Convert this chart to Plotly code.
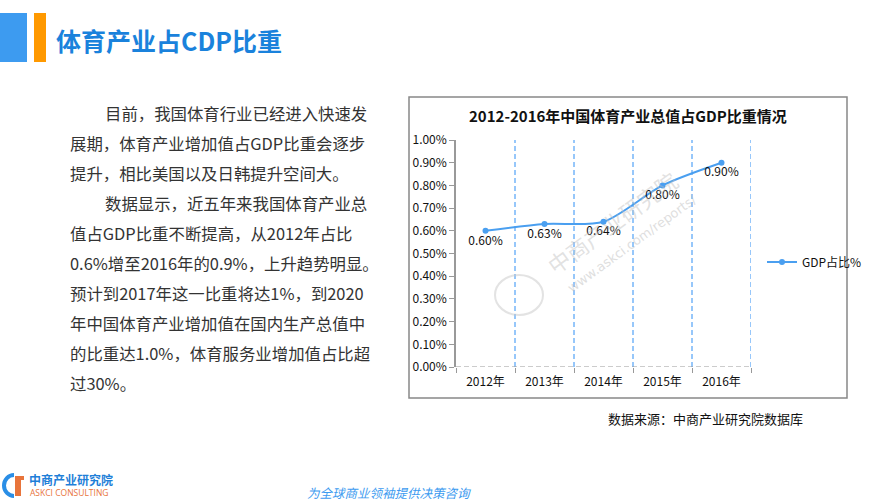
import plotly.graph_objects as go

# data
years = ['2012年', '2013年', '2014年', '2015年', '2016年']
gdp_share = [0.0060, 0.0063, 0.0064, 0.0080, 0.0090]
series_name = 'GDP占比%'

page_title = '体育产业占CDP比重'
chart_title = '2012-2016年中国体育产业总值占GDP比重情况'
source_text = '数据来源：中商产业研究院数据库'
slogan = '为全球商业领袖提供决策咨询'
body_lines = [
    (True, '目前，我国体育行业已经进入快速发'),
    (False, '展期，体育产业增加值占GDP比重会逐步'),
    (False, '提升，相比美国以及日韩提升空间大。'),
    (True, '数据显示，近五年来我国体育产业总'),
    (False, '值占GDP比重不断提高，从2012年占比'),
    (False, '0.6%增至2016年的0.9%，上升趋势明显。'),
    (False, '预计到2017年这一比重将达1%，到2020'),
    (False, '年中国体育产业增加值在国内生产总值中'),
    (False, '的比重达1.0%，体育服务业增加值占比超'),
    (False, '过30%。'),
]

W, H = 870, 502
PL, PR, PT, PB = 456, 751, 140, 367  # plot area in px
CJK = 'Noto Sans CJK SC'
LINE_BLUE = '#4a9ff0'


def px_x(x):
    return (x - PL) / (PR - PL)


def px_y(y):
    return (PB - y) / (PB - PT)


fig = go.Figure()
fig.add_trace(go.Scatter(
    x=years, y=gdp_share, name=series_name,
    mode='lines+markers+text',
    line=dict(color=LINE_BLUE, width=2, shape='spline', smoothing=0.8),
    marker=dict(color=LINE_BLUE, size=6),
    texttemplate='%{y:.2%}', textposition='bottom center',
    textfont=dict(family=CJK, size=12, color='#111'),
    cliponaxis=False,
))

annotations = []
shapes = []

# dashed category dividers
for i in range(len(years)):
    shapes.append(dict(type='line', xref='x', yref='paper', x0=i + 0.5, x1=i + 0.5, y0=0, y1=1,
                       line=dict(color='#2f8ff5', width=1, dash='5px,3px'), layer='below'))

# page header
shapes.append(dict(type='rect', xref='paper', yref='paper', x0=px_x(0), x1=px_x(27),
                   y0=px_y(62), y1=px_y(13), fillcolor='#3d9bf0', line_width=0, layer='above'))
shapes.append(dict(type='rect', xref='paper', yref='paper', x0=px_x(34), x1=px_x(46),
                   y0=px_y(62), y1=px_y(13), fillcolor='#ff9900', line_width=0, layer='above'))
annotations.append(dict(xref='paper', yref='paper', x=px_x(54), y=px_y(40), xanchor='left',
                        yanchor='middle', showarrow=False, text='<b>%s</b>' % page_title,
                        font=dict(family=CJK, size=25, color='#1a82dc')))

# body text
for i, (indent, line) in enumerate(body_lines):
    annotations.append(dict(xref='paper', yref='paper', x=px_x(103 if indent else 68),
                            y=px_y(113 + 30 * i), xanchor='left', yanchor='middle',
                            showarrow=False, text=line,
                            font=dict(family=CJK, size=16.4, color='#333')))

# chart box and title
shapes.append(dict(type='rect', xref='paper', yref='paper', x0=px_x(409), x1=px_x(847),
                   y0=px_y(398), y1=px_y(97), line=dict(color='#888', width=1.5)))
annotations.append(dict(xref='paper', yref='paper', x=px_x(628), y=px_y(115), xanchor='center',
                        yanchor='middle', showarrow=False, text='<b>%s</b>' % chart_title,
                        font=dict(family=CJK, size=15, color='#111')))

# dashed x axis line
shapes.append(dict(type='line', xref='paper', yref='y', x0=0, x1=1, y0=0, y1=0,
                   line=dict(color='#999', width=1.2, dash='5px,3px')))

# watermark
annotations.append(dict(xref='paper', yref='paper', x=px_x(612), y=px_y(222), showarrow=False,
                        text='中商产业研究院', textangle=-36,
                        font=dict(family=CJK, size=22, color='rgba(190,190,190,0.45)')))
annotations.append(dict(xref='paper', yref='paper', x=px_x(632), y=px_y(243), showarrow=False,
                        text='www.askci.com/reports/', textangle=-36,
                        font=dict(family='DejaVu Sans', size=13, color='rgba(190,190,190,0.5)')))
shapes.append(dict(type='circle', xref='paper', yref='paper', x0=px_x(495), x1=px_x(543),
                   y0=px_y(315), y1=px_y(275), line=dict(color='rgba(200,200,200,0.5)', width=2)))

# source
annotations.append(dict(xref='paper', yref='paper', x=px_x(606), y=px_y(418), xanchor='left',
                        yanchor='middle', showarrow=False, text=source_text,
                        font=dict(family=CJK, size=13, color='#111')))

# footer logo
shapes.append(dict(type='circle', xref='paper', yref='paper', x0=px_x(4), x1=px_x(24),
                   y0=px_y(496), y1=px_y(475), line=dict(color='#2a8ee6', width=4)))
shapes.append(dict(type='rect', xref='paper', yref='paper', x0=px_x(14), x1=px_x(27),
                   y0=px_y(499), y1=px_y(472), fillcolor='white', line_width=0))
shapes.append(dict(type='rect', xref='paper', yref='paper', x0=px_x(15), x1=px_x(21),
                   y0=px_y(496), y1=px_y(480), fillcolor='#e8743b', line_width=0))
shapes.append(dict(type='rect', xref='paper', yref='paper', x0=px_x(15), x1=px_x(24),
                   y0=px_y(480), y1=px_y(476), fillcolor='#e8743b', line_width=0))
annotations.append(dict(xref='paper', yref='paper', x=px_x(27), y=px_y(479), xanchor='left',
                        yanchor='middle', showarrow=False, text='<b>中商产业研究院</b>',
                        font=dict(family=CJK, size=12, color='#1f7fd8')))
annotations.append(dict(xref='paper', yref='paper', x=px_x(28), y=px_y(492), xanchor='left',
                        yanchor='middle', showarrow=False, text='ASKCI CONSULTING',
                        font=dict(family='Open Sans', size=8.5, color='#e8743b')))
annotations.append(dict(xref='paper', yref='paper', x=px_x(389), y=px_y(492), xanchor='center',
                        yanchor='middle', showarrow=False, text='<i>%s</i>' % slogan,
                        font=dict(family=CJK, size=12.5, color='#3d9bf0')))

fig.update_layout(
    width=W, height=H,
    margin=dict(l=PL, r=W - PR, t=PT, b=H - PB, autoexpand=False),
    paper_bgcolor='white', plot_bgcolor='white',
    showlegend=True,
    legend=dict(x=px_x(762), y=px_y(262), xanchor='left', yanchor='middle',
                font=dict(family=CJK, size=12, color='#111'), bgcolor='rgba(0,0,0,0)',
                itemwidth=30),
    xaxis=dict(range=[-0.5, 4.5], tickson='boundaries', showgrid=False,
               ticks='outside', ticklen=5, tickcolor='#999',
               showline=False, zeroline=False, automargin=False, ticklabelstandoff=6,
               tickfont=dict(family=CJK, size=12, color='#111')),
    yaxis=dict(range=[0, 0.01], dtick=0.001, tickformat='.2%', showgrid=False, zeroline=False,
               showline=True, linecolor='#999', linewidth=1.5, ticks='outside', ticklen=5,
               automargin=False,
               tickcolor='#999', tickfont=dict(family=CJK, size=12, color='#111')),
    shapes=shapes, annotations=annotations,
)

fig.write_html('out.html', config={'displayModeBar': False},
               post_script="document.body.style.margin='0';")
